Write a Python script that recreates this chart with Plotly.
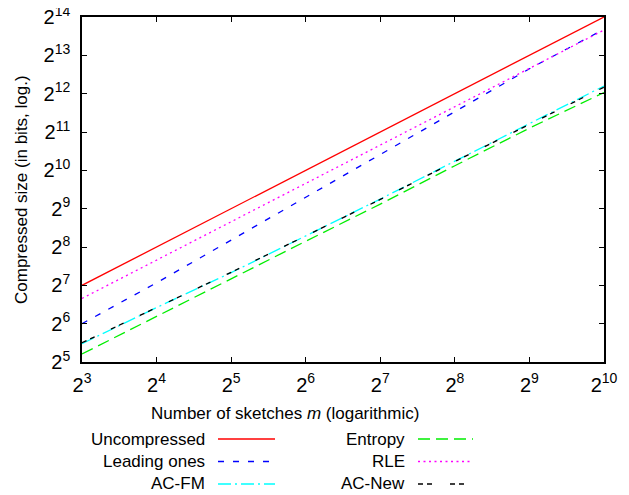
import plotly.graph_objects as go

# Number of sketches m
m_values = [8, 16, 32, 64, 128, 256, 512, 1024]

# Compressed sizes in bits
uncompressed = [128, 256, 512, 1024, 2048, 4096, 8192, 16384]
leading_ones = [64, 134, 290, 626, 1351, 2957, 6428, 13124]
ac_fm = [44.6, 85.6, 160.9, 313, 609, 1209, 2385, 4705]
entropy = [37.0, 73.5, 144.0, 284, 556, 1113, 2195, 4182]
rle = [101, 202, 405, 809, 1618, 3236, 6472, 12944]
ac_new = [45.3, 86.2, 162.0, 313, 605, 1201, 2353, 4608]

x_tick_exps = [3, 4, 5, 6, 7, 8, 9, 10]
y_tick_exps = [5, 6, 7, 8, 9, 10, 11, 12, 13, 14]

series = [
    ("Uncompressed", uncompressed, "#ff0000", "solid"),
    ("Leading ones", leading_ones, "#0000ff", "6px,9px"),
    ("AC-FM", ac_fm, "#00ffff", "13px,4px,2px,4px"),
    ("Entropy", entropy, "#00ee00", "12px,6px"),
    ("RLE", rle, "#ff00ff", "2px,3.5px"),
    ("AC-New", ac_new, "#000000", "5px,4px,5px,18px"),
]

FONT = "Liberation Sans, Arial, Helvetica, sans-serif"
# page body has an 8px margin: figure is laid out in a 621x487 box offset by 8px
OFF = 8
W, H = 629 - OFF, 495 - OFF
L, R, T, B = 82 - OFF, 25, 17 - OFF, 133
PW, PH = W - L - R, H - T - B

fig = go.Figure()
for name, vals, color, dash in series:
    fig.add_trace(go.Scatter(
        x=m_values, y=vals, mode="lines", name=name,
        line=dict(color=color, width=1.3, dash=dash),
        showlegend=False,
    ))

fig.update_layout(
    width=W, height=H,
    margin=dict(l=L, r=R, t=T, b=B, autoexpand=False),
    paper_bgcolor="white", plot_bgcolor="white",
    font=dict(family=FONT, size=17, color="black"),
)
fig.update_xaxes(
    type="log", range=[0.90309, 3.0103],
    tickvals=[2 ** e for e in x_tick_exps],
    ticktext=[f"2<sup>{e}</sup>" for e in x_tick_exps],
    ticks="inside", ticklen=5, tickwidth=1.3, tickcolor="black",
    showline=True, linecolor="black", linewidth=1.5, mirror="allticks",
    showgrid=False, zeroline=False, automargin=False,
    tickfont=dict(family=FONT, size=20),
    ticklabelstandoff=4, ticklabeloverflow="allow",
)
fig.update_yaxes(
    type="log", range=[1.50515, 4.21442],
    tickvals=[2 ** e for e in y_tick_exps],
    ticktext=[f"2<sup>{e}</sup>" for e in y_tick_exps],
    ticks="inside", ticklen=5, tickwidth=1.3, tickcolor="black",
    showline=True, linecolor="black", linewidth=1.5, mirror="allticks",
    showgrid=False, zeroline=False, automargin=False,
    tickfont=dict(family=FONT, size=20),
    ticklabelstandoff=6, ticklabeloverflow="allow",
)

def px_x(px):
    return (px - OFF - L) / PW

def px_y(py):
    return (H - B - (py - OFF)) / PH

# y-axis label
fig.add_annotation(
    text="Compressed size (in bits, log.)",
    xref="paper", yref="paper", x=px_x(22), y=px_y(190),
    xanchor="center", yanchor="middle", textangle=-90, showarrow=False,
    font=dict(family=FONT, size=17),
)

# x-axis label
fig.add_annotation(
    text="Number of sketches <i>m</i> (logarithmic)",
    xref="paper", yref="paper", x=px_x(285), y=px_y(413),
    xanchor="center", yanchor="middle", showarrow=False,
    font=dict(family=FONT, size=17),
)

# Custom legend (text right-aligned before the line sample)
legend_layout = [
    ("Uncompressed", 0, 0), ("Leading ones", 0, 1), ("AC-FM", 0, 2),
    ("Entropy", 1, 0), ("RLE", 1, 1), ("AC-New", 1, 2),
]
col_text_right = [207, 407]
col_sample = [(218, 275), (418, 473)]
row_y = [439, 461.5, 484]
style = {name: (color, dash) for name, _, color, dash in series}
for name, col, row in legend_layout:
    color, dash = style[name]
    fig.add_annotation(
        text=name, xref="paper", yref="paper",
        x=px_x(col_text_right[col]), y=px_y(row_y[row]),
        xanchor="right", yanchor="middle", showarrow=False,
        font=dict(family=FONT, size=17),
    )
    x0, x1 = col_sample[col]
    fig.add_shape(
        type="line", xref="paper", yref="paper",
        x0=px_x(x0), x1=px_x(x1), y0=px_y(row_y[row]), y1=px_y(row_y[row]),
        line=dict(color=color, width=1.3, dash=dash),
    )

fig.write_html("out.html")
